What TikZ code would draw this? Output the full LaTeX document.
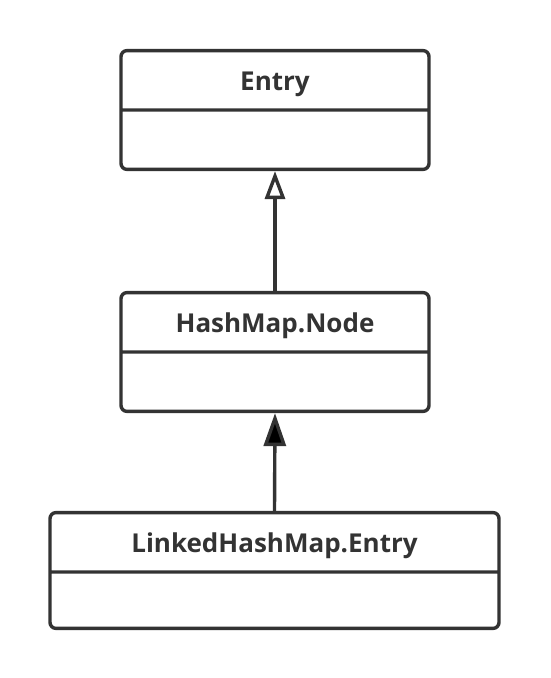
\documentclass[tikz,border=0pt]{standalone}
\usepackage{fontspec}
\setmainfont{Open Sans}
\usetikzlibrary{arrows.meta, shapes.multipart}
\definecolor{umlgray}{HTML}{333333}
\newcommand{\partstrut}[1][35pt]{\rule[-7pt]{0pt}{#1}}
\tikzset{
		classbox/.style={draw=umlgray, line width=3.4pt, rounded corners=6pt,
			rectangle split, rectangle split parts=2,
			text height=28pt, text depth=7pt, inner ysep=10.5pt,
			font=\fontsize{26}{30}\selectfont\bfseries, text=umlgray},
		inherit/.style={draw=umlgray, line width=3.4pt},
		open tip/.style={-{Triangle[open, length=28pt, width=20pt, line width=3.4pt]}},
		solid tip/.style={-{Triangle[length=33pt, width=22pt]}}
	}

\begin{document}
\begin{tikzpicture}[x=1pt, y=-1pt]
	\useasboundingbox (0,0) rectangle (550,678);
					\node[classbox, minimum width=308pt] (entry)  at (275,110)   {Entry \nodepart{two} \partstrut};
					\node[classbox, minimum width=308pt] (node)   at (275,352)   {HashMap.Node \nodepart{two} \partstrut};
					\node[classbox, minimum width=449pt] (linked) at (274.5,570.5) {LinkedHashMap.Entry \nodepart{two} \partstrut[32pt]};

					\draw[inherit, open tip]  (node.north)   -- (entry.south);
					\draw[inherit, solid tip] (linked.north) -- (node.south);
				\end{tikzpicture}
\end{document}
